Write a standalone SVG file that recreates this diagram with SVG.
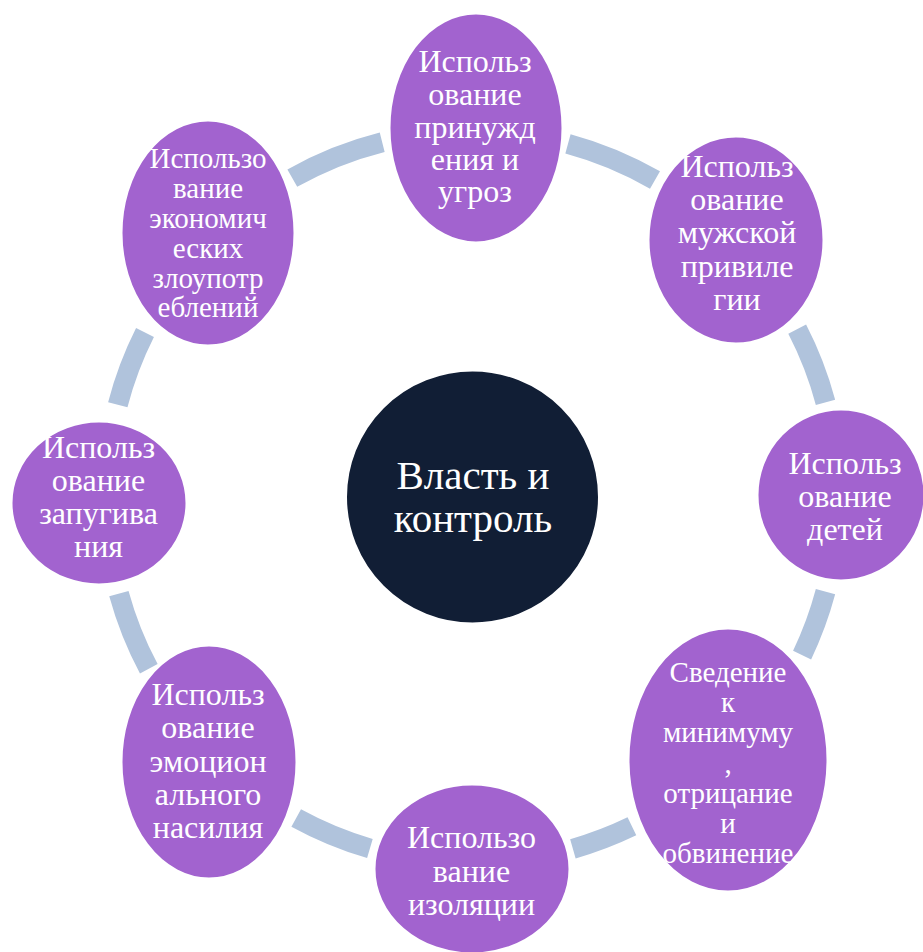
<svg xmlns="http://www.w3.org/2000/svg" width="923" height="952" viewBox="0 0 923 952">
<style>
.arc{fill:none;stroke:#B0C3DC;stroke-width:20;stroke-linecap:butt}
.node{fill:#A263CF;stroke:#FFFFFF;stroke-width:3}
.hub{fill:#111E35;stroke:#FFFFFF;stroke-width:3}
.t{font-family:"Liberation Serif","Times New Roman",serif;fill:#FFFFFF;text-anchor:middle;font-size:32px}
.s{font-size:29px}
.c{font-size:41px}
</style>
<rect width="923" height="952" fill="#FFFFFF"/>
<g id="connectors">
<path class="arc" d="M567.97,143.8 A366,366 0 0 1 655,180"/>
<path class="arc" d="M797.2,329.1 A366,366 0 0 1 825.5,402.3"/>
<path class="arc" d="M825.5,591.7 A366,366 0 0 1 802.1,655.1"/>
<path class="arc" d="M631.9,826.3 A366,366 0 0 1 572.9,848.8"/>
<path class="arc" d="M369.9,848.5 A366,366 0 0 1 296.2,818"/>
<path class="arc" d="M148.8,668.8 A366,366 0 0 1 118.9,593.6"/>
<path class="arc" d="M117.8,404.7 A366,366 0 0 1 145,332.6"/>
<path class="arc" d="M292.3,178.1 A366,366 0 0 1 382.2,142.2"/>
</g>
<g id="hub">
<circle class="hub" cx="472.5" cy="497" r="127"/>
<text class="t c" x="473" y="489">Власть и</text>
<text class="t c" x="473" y="532">контроль</text>
</g>
<g id="node1">
<ellipse class="node" cx="476" cy="128" rx="87" ry="115"/>
<text class="t" x="475" y="72">Использ</text>
<text class="t" x="475" y="105">ование</text>
<text class="t" x="475" y="138">принужд</text>
<text class="t" x="475" y="170">ения и</text>
<text class="t" x="475" y="202">угроз</text>
</g>
<g id="node2">
<ellipse class="node" cx="736" cy="240" rx="88" ry="104"/>
<text class="t" x="737" y="177">Использ</text>
<text class="t" x="737" y="210">ование</text>
<text class="t" x="737" y="243">мужской</text>
<text class="t" x="737" y="277">привиле</text>
<text class="t" x="737" y="310">гии</text>
</g>
<g id="node3">
<ellipse class="node" cx="841" cy="495" rx="84" ry="86"/>
<text class="t" x="845" y="474">Использ</text>
<text class="t" x="845" y="507">ование</text>
<text class="t" x="845" y="540">детей</text>
</g>
<g id="node4">
<ellipse class="node" cx="728" cy="760" rx="100" ry="132"/>
<text class="t s" x="728" y="682">Сведение</text>
<text class="t s" x="728" y="712">к</text>
<text class="t s" x="728" y="742">минимуму</text>
<text class="t s" x="728" y="773">,</text>
<text class="t s" x="728" y="803">отрицание</text>
<text class="t s" x="728" y="833">и</text>
<text class="t s" x="728" y="863">обвинение</text>
</g>
<g id="node5">
<ellipse class="node" cx="472" cy="869" rx="98" ry="85"/>
<text class="t" x="471.5" y="848">Использо</text>
<text class="t" x="471.5" y="882">вание</text>
<text class="t" x="471.5" y="915">изоляции</text>
</g>
<g id="node6">
<ellipse class="node" cx="209" cy="762" rx="88" ry="117"/>
<text class="t" x="208" y="705">Использ</text>
<text class="t" x="208" y="738">ование</text>
<text class="t" x="208" y="772">эмоцион</text>
<text class="t" x="208" y="805">ального</text>
<text class="t" x="208" y="838">насилия</text>
</g>
<g id="node7">
<ellipse class="node" cx="99" cy="503" rx="88" ry="82"/>
<text class="t" x="98.5" y="458">Использ</text>
<text class="t" x="98.5" y="491">ование</text>
<text class="t" x="98.5" y="524">запугива</text>
<text class="t" x="98.5" y="557">ния</text>
</g>
<g id="node8">
<ellipse class="node" cx="208" cy="233" rx="87" ry="113"/>
<text class="t s" x="208" y="168">Использо</text>
<text class="t s" x="208" y="198">вание</text>
<text class="t s" x="208" y="228">экономич</text>
<text class="t s" x="208" y="258">еских</text>
<text class="t s" x="208" y="288">злоупотр</text>
<text class="t s" x="208" y="317">еблений</text>
</g>
</svg>
